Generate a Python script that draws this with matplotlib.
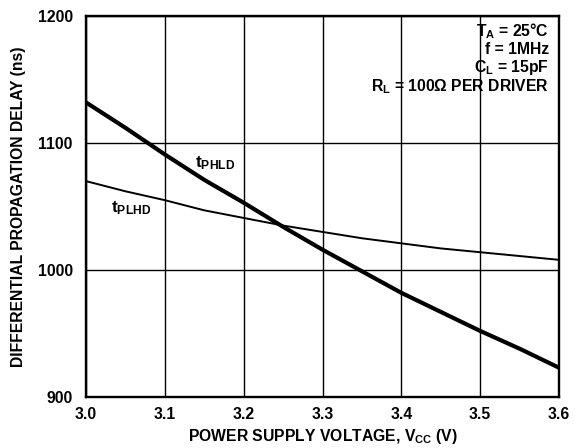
import matplotlib
matplotlib.use("Agg")
import matplotlib.pyplot as plt

plt.rcParams['font.family'] = ['Liberation Sans', 'DejaVu Sans']
plt.rcParams['font.weight'] = 'bold'
plt.rcParams['mathtext.default'] = 'regular'

vcc = [3.0, 3.05, 3.1, 3.15, 3.2, 3.25, 3.3, 3.35, 3.4, 3.45, 3.5, 3.55, 3.6]
tphld = [1132, 1112, 1091, 1071, 1053, 1034, 1016, 999, 982, 967, 952, 938, 923]
tplhd = [1070, 1062, 1055, 1047, 1041, 1035, 1030, 1025, 1021, 1017, 1014, 1011, 1008]

xticks = [3.0, 3.1, 3.2, 3.3, 3.4, 3.5, 3.6]
xtick_labels = ["3.0", "3.1", "3.2", "3.3", "3.4", "3.5", "3.6"]
yticks = [900, 1000, 1100, 1200]
ytick_labels = ["900", "1000", "1100", "1200"]

FS = 11.3

fig = plt.figure(figsize=(5.75, 4.48), dpi=100)
ax = fig.add_axes([0.1496, 0.114, 0.8226, 0.850])

ax.plot(vcc, tphld, color='black', lw=3.0, solid_capstyle='butt')
ax.plot(vcc, tplhd, color='black', lw=1.4)

ax.set_xlim(3.0, 3.6)
ax.set_ylim(900, 1200)
ax.set_xticks(xticks)
ax.set_xticklabels(xtick_labels, fontsize=FS, fontweight='bold')
ax.set_yticks(yticks)
ax.set_yticklabels(ytick_labels, fontsize=FS, fontweight='bold')
ax.tick_params(axis='x', length=0, pad=7.5)
ax.tick_params(axis='y', length=0, pad=9.5)
ax.grid(True, color='black', lw=1.0)
for s in ax.spines.values():
    s.set_linewidth(1.7)
    s.set_color('black')

ax.set_xlabel("POWER SUPPLY VOLTAGE, V$_{CC}$ (V)", fontsize=FS, fontweight='bold')
ax.xaxis.label.set_va('center')
ax.xaxis.set_label_coords(0.5, -0.105)
ax.set_ylabel("DIFFERENTIAL PROPAGATION DELAY (ns)", fontsize=FS, fontweight='bold')
ax.yaxis.label.set_va('center')
ax.yaxis.set_label_coords(-0.142, 0.5)

ax.text(3.138, 1081, "t$_{PHLD}$", fontsize=12.5, fontweight='bold', ha='left', va='baseline')
ax.text(3.032, 1045.5, "t$_{PLHD}$", fontsize=12.5, fontweight='bold', ha='left', va='baseline')

info = ["T$_{A}$ = 25°C", "f = 1MHz", "C$_{L}$ = 15pF", "R$_{L}$ = 100Ω PER DRIVER"]
ys = [1184, 1170, 1156, 1141]
for t, y in zip(info, ys):
    ax.text(3.587, y, t, fontsize=FS, fontweight='bold', ha='right', va='baseline')

fig.savefig("out.png", dpi=100)
